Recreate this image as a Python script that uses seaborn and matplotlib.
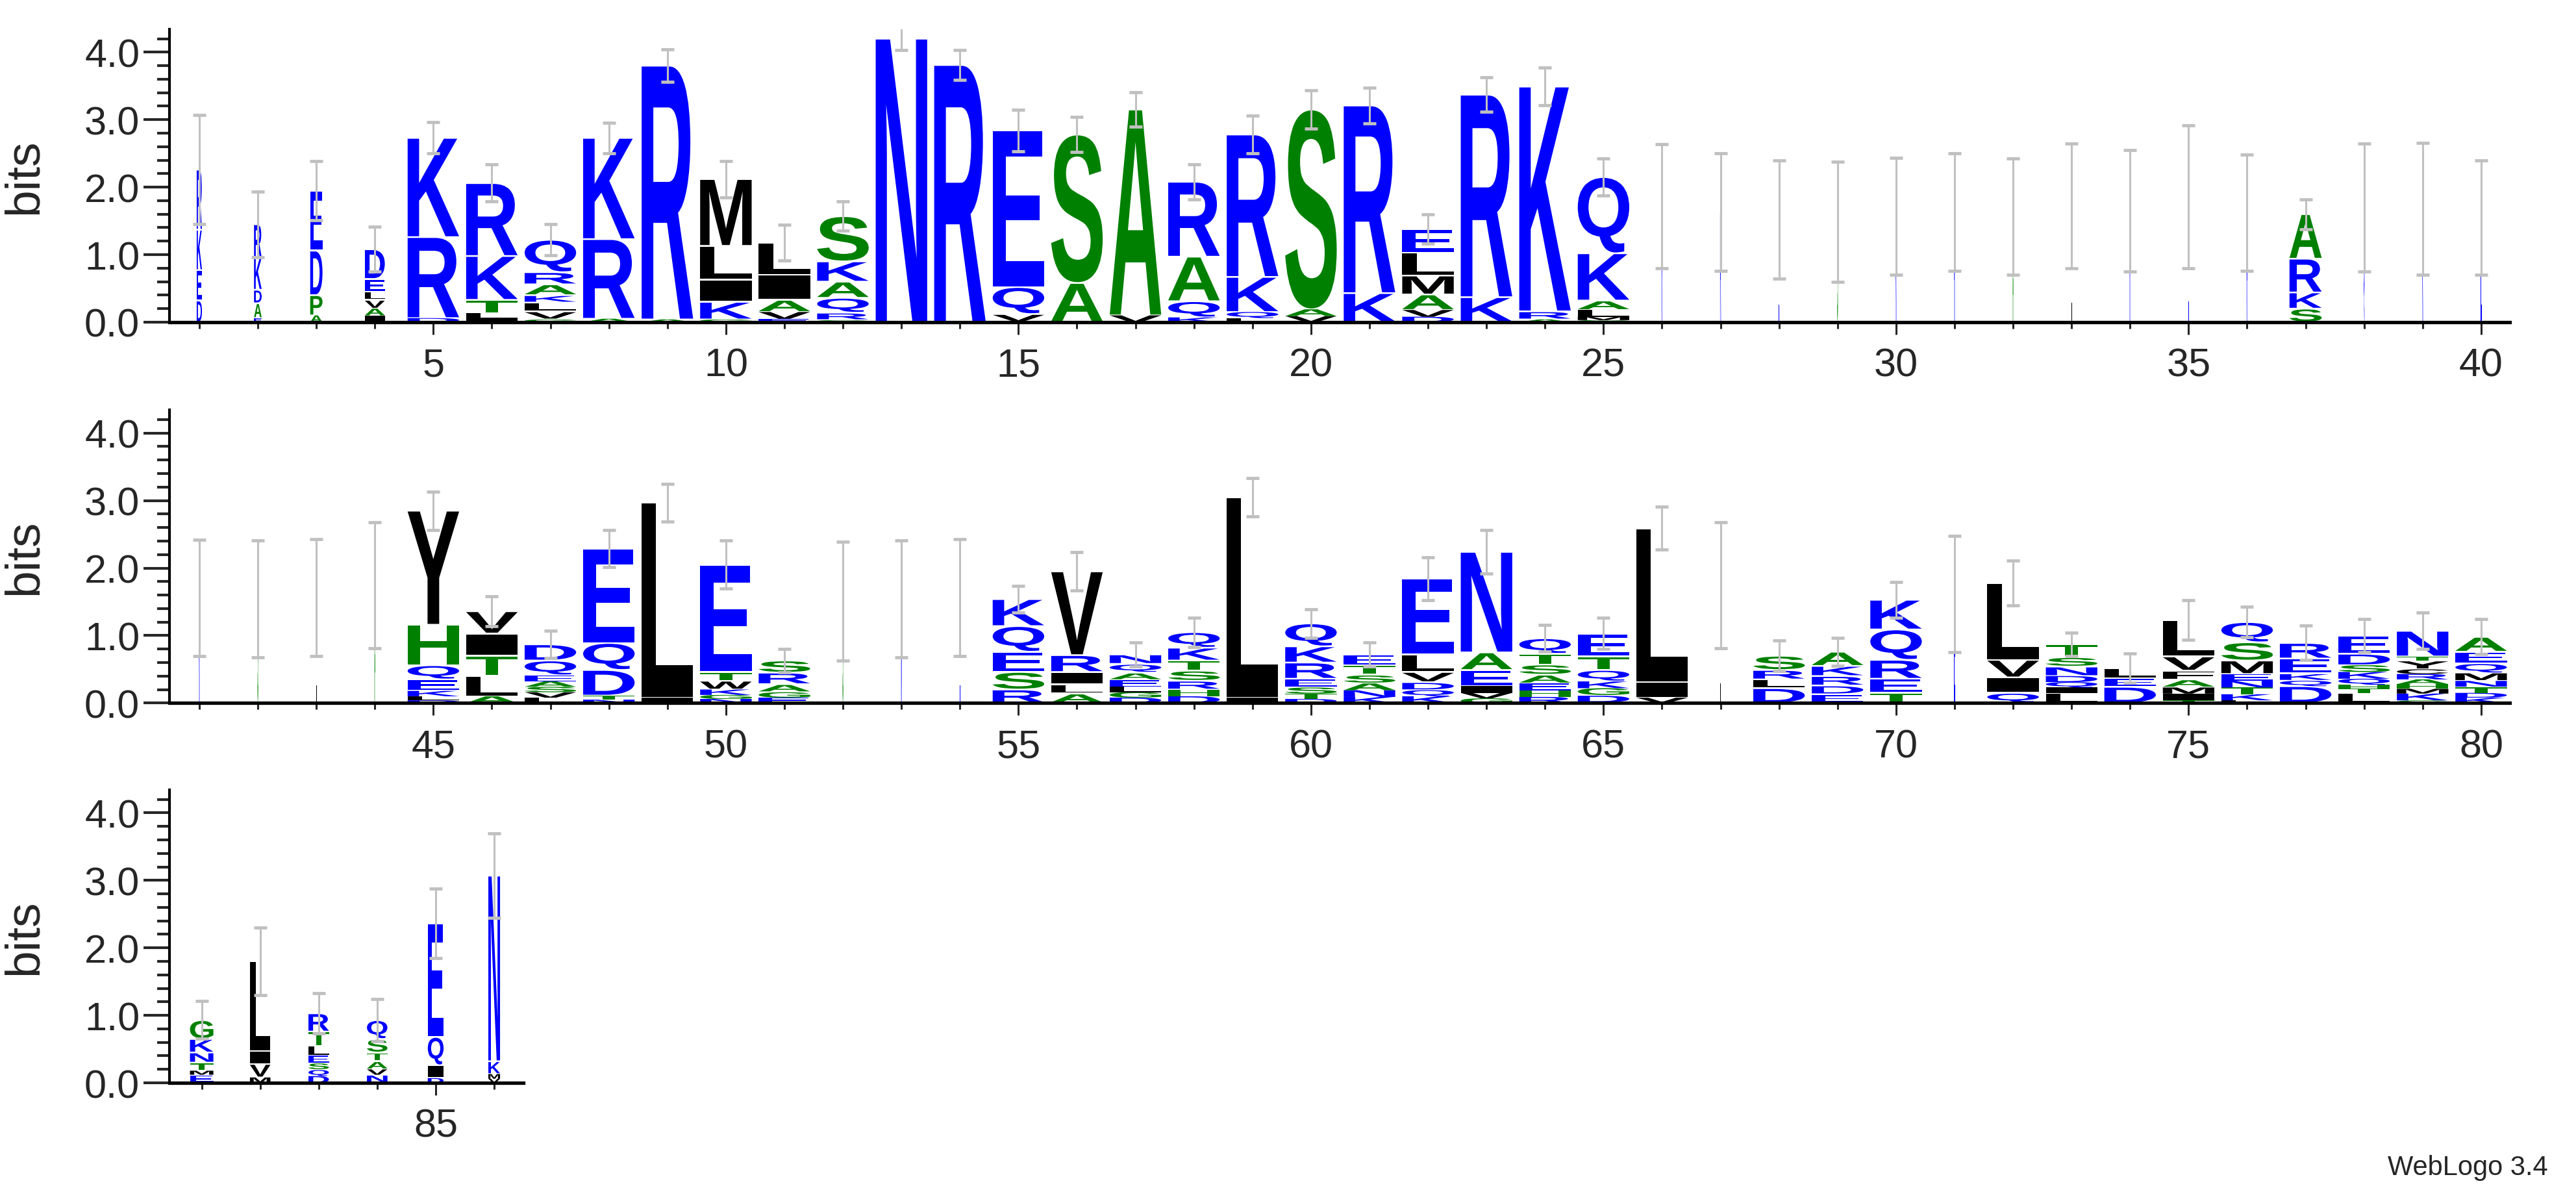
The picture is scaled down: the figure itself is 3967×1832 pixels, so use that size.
import matplotlib
matplotlib.use("Agg")
import matplotlib.pyplot as plt
import matplotlib.transforms as mtransforms
from matplotlib.textpath import TextPath
from matplotlib.patches import PathPatch
from matplotlib.font_manager import FontProperties, fontManager
from matplotlib.ticker import MultipleLocator
import seaborn as sns

# ---- data: letters bottom -> top, heights in bits, error half-width, column width
row1_letters = ["DEKR", "EADKR", "APDE", "IAVLED", "DRK", "ILTKR", "GVLKARQ", "ARK", "AR", "GKILM",
                "EVAIL", "GRQAKS", "N", "R", "VQE", "AS", "VA", "KQAR", "LQKR", "VAS",
                "KR", "DVAMLE", "KR", "ARK", "GMLAKQ", "K", "R", "E", "S", "K",
                "R", "A", "L", "K", "E", "R", "SKRA", "Q", "K", "E"]
row1_heights = [[0.32, 0.45, 0.6, 0.89], [0.06, 0.22, 0.2, 0.47, 0.5], [0.1, 0.3, 0.66, 0.89],
                [0.1, 0.1, 0.13, 0.12, 0.19, 0.44], [0.06, 1.2, 1.47], [0.05, 0.08, 0.2, 0.65, 1.08],
                [0.04, 0.12, 0.13, 0.11, 0.16, 0.18, 0.48], [0.05, 1.18, 1.5], [0.04, 3.76],
                [0.04, 0.26, 0.33, 0.5, 0.99], [0.05, 0.1, 0.18, 0.37, 0.48],
                [0.03, 0.11, 0.22, 0.24, 0.3, 0.67], [4.2], [3.81], [0.12, 0.4, 2.32], [0.58, 2.2],
                [0.1, 3.05], [0.07, 0.24, 0.66, 1.11], [0.06, 0.09, 0.52, 2.11], [0.09, 0.1, 2.96],
                [0.43, 2.78], [0.08, 0.1, 0.23, 0.28, 0.34, 0.35], [0.37, 3.0], [0.04, 0.12, 3.33],
                [0.03, 0.05, 0.1, 0.14, 0.7, 1.13], [1.72], [1.63], [1.52], [1.49], [1.57],
                [1.63], [1.56], [1.72], [1.65], [1.86], [1.62], [0.2, 0.24, 0.5, 0.66], [1.7], [1.68], [1.55]]
row1_err = [0.81, 0.485, 0.44, 0.33, 0.23, 0.275, 0.23, 0.225, 0.24, 0.27,
            0.265, 0.215, 0.165, 0.225, 0.305, 0.26, 0.255, 0.26, 0.28, 0.285,
            0.265, 0.22, 0.255, 0.28, 0.27, 0.92, 0.875, 0.875, 0.89, 0.865,
            0.875, 0.86, 0.925, 0.9, 1.06, 0.865, 0.22, 0.95, 0.975, 0.85]
row1_widths = [0.09, 0.13, 0.21, 0.34] + [0.88] * 21 + [0.015] * 11 + [0.55] + [0.015] * 3

row2_letters = ["K", "S", "L", "A", "DLKEQHY", "ALTIV", "LVSAEQD", "NTDQE", "IL", "NGKWTE",
                "EGARS", "S", "N", "E", "RSEQK", "ALIRV", "DGLEAQN", "DHRSTKQ", "IL", "DTSERKQ",
                "KNASTE", "KQDVLE", "GVIEAN", "RHEASTQ", "DGKQTE", "VIL", "L", "DLRS", "EDRKA", "TERQK",
                "E", "QIVL", "LIQDNST", "DEL", "TIMAFVL", "LKTNEMSQ", "DQKER", "LTHQKSDE", "GKMHARCYTN", "KDTNMQEA"]
row2_heights = [[1.56], [1.545], [1.565], [1.745], [0.04, 0.06, 0.08, 0.17, 0.21, 0.6, 1.69],
                [0.1, 0.3, 0.3, 0.33, 0.33], [0.08, 0.08, 0.08, 0.08, 0.09, 0.22, 0.24],
                [0.05, 0.06, 0.38, 0.4, 1.4], [0.08, 2.89], [0.06, 0.06, 0.08, 0.13, 0.13, 1.59],
                [0.08, 0.08, 0.12, 0.17, 0.18], [1.51], [1.545], [1.565], [0.2, 0.26, 0.3, 0.38, 0.4],
                [0.14, 0.14, 0.18, 0.25, 1.24], [0.08, 0.08, 0.08, 0.1, 0.11, 0.13, 0.14],
                [0.1, 0.1, 0.13, 0.15, 0.15, 0.19, 0.23], [0.08, 2.97], [0.06, 0.08, 0.09, 0.13, 0.24, 0.24, 0.34],
                [0.09, 0.1, 0.1, 0.13, 0.14, 0.16], [0.1, 0.09, 0.12, 0.15, 0.26, 1.12],
                [0.07, 0.08, 0.1, 0.24, 0.26, 1.49], [0.09, 0.1, 0.1, 0.13, 0.15, 0.16, 0.23],
                [0.12, 0.1, 0.1, 0.17, 0.2, 0.34], [0.08, 0.23, 2.28], [1.745], [0.22, 0.13, 0.14, 0.21],
                [0.13, 0.13, 0.14, 0.15, 0.21], [0.15, 0.21, 0.28, 0.45, 0.44], [1.615],
                [0.15, 0.23, 0.26, 1.14], [0.15, 0.08, 0.08, 0.09, 0.14, 0.14, 0.19], [0.24, 0.13, 0.15],
                [0.04, 0.1, 0.09, 0.12, 0.13, 0.21, 0.54], [0.04, 0.09, 0.1, 0.1, 0.1, 0.2, 0.27, 0.3],
                [0.25, 0.08, 0.11, 0.22, 0.23], [0.15, 0.06, 0.06, 0.09, 0.1, 0.1, 0.17, 0.27],
                [0.04, 0.1, 0.07, 0.07, 0.07, 0.08, 0.07, 0.13, 0.06, 0.38],
                [0.08, 0.07, 0.08, 0.11, 0.1, 0.15, 0.17, 0.22]]
row2_err = [0.86, 0.865, 0.865, 0.935, 0.285, 0.22, 0.2, 0.275, 0.28, 0.355,
            0.175, 0.88, 0.865, 0.865, 0.2, 0.285, 0.175, 0.215, 0.28, 0.21,
            0.175, 0.32, 0.32, 0.195, 0.23, 0.315, 0.935, 0.23, 0.21, 0.265,
            0.865, 0.335, 0.175, 0.215, 0.295, 0.225, 0.255, 0.245, 0.27, 0.26]
row2_widths = ([0.015] * 4 + [0.88] * 7 + [0.015] * 3 + [0.88] * 12 + [0.015] + [0.88] * 3
               + [0.015] + [0.88] * 9)

row3_letters = ["EMTNKG", "MVIL", "DQSELTR", "NVATSQ", "DIQE", "VMKN"]
row3_heights = [[0.12, 0.06, 0.12, 0.15, 0.2, 0.28], [0.08, 0.2, 0.19, 1.33],
                [0.1, 0.09, 0.11, 0.1, 0.15, 0.21, 0.27], [0.12, 0.08, 0.12, 0.13, 0.2, 0.28],
                [0.07, 0.19, 0.42, 1.68], [0.06, 0.07, 0.19, 2.75]]
row3_err = [0.28, 0.5, 0.3, 0.315, 0.515, 0.625]
row3_widths = [0.4, 0.35, 0.35, 0.35, 0.27, 0.2]

sns.set_theme(style="white")
names = {f.name for f in fontManager.ttflist}
tick_family = "Liberation Sans Narrow" if "Liberation Sans Narrow" in names else "Liberation Sans"
plt.rcParams["font.family"] = [tick_family, "DejaVu Sans"]

glyph_font = FontProperties(family="Liberation Sans", weight="bold")
BLUE, GREEN, BLACK = "#0000ff", "#008000", "#000000"


def letter_color(ch):
    if ch in "RKDENQ":
        return BLUE
    if ch in "GSTAPH":
        return GREEN
    return BLACK


def draw_letter(ax, ch, x, y0, w, h):
    gap = 0.025 if h > 0.1 else 0.0
    path = TextPath((0, 0), ch, size=1, prop=glyph_font)
    bb = path.get_extents()
    tr = (mtransforms.Affine2D().translate(-bb.x0, -bb.y0)
          .scale(w / bb.width, (h - gap) / bb.height)
          .translate(x - w / 2, y0 + gap / 2))
    ax.add_patch(PathPatch(tr.transform_path(path), facecolor=letter_color(ch),
                           edgecolor="none", zorder=2))


def draw_row(ax, start, letters, heights, errs, widths, xlim):
    tops = []
    for i, (seq, hs, w) in enumerate(zip(letters, heights, widths)):
        x = start + i
        y = 0.0
        for ch, h in zip(seq, hs):
            draw_letter(ax, ch, x, y, w, h)
            y += h
        tops.append(y)
    xs = list(range(start, start + len(letters)))
    ax.errorbar(xs, tops, yerr=errs, fmt="none", ecolor="#c0c0c0", elinewidth=2.2,
                capsize=7, capthick=3.5, zorder=3)
    ax.set_xlim(*xlim)
    ax.set_ylim(0, 4.34)
    ax.xaxis.set_major_locator(MultipleLocator(5))
    ax.xaxis.set_minor_locator(MultipleLocator(1))
    ax.yaxis.set_major_locator(MultipleLocator(1))
    ax.yaxis.set_minor_locator(MultipleLocator(0.2))
    ax.yaxis.set_major_formatter(plt.FormatStrFormatter("%.1f"))
    ax.tick_params(axis="y", which="major", direction="out", length=29, width=3,
                   labelsize=44, pad=4, left=True)
    ax.tick_params(axis="y", which="minor", direction="out", length=14, width=3, left=True)
    ax.tick_params(axis="x", which="major", direction="out", length=14, width=2.2,
                   labelsize=44, pad=14, bottom=True)
    ax.tick_params(axis="x", which="minor", direction="out", length=7, width=2.2, bottom=True)
    sns.despine(ax=ax)
    ax.spines["left"].set_linewidth(3)
    ax.spines["bottom"].set_linewidth(3.8)
    ax.spines["left"].set_color("black")
    ax.spines["bottom"].set_color("black")
    ax.grid(False)
    ax.set_ylabel("bits", fontsize=54, family=["Liberation Sans", "DejaVu Sans"])
    ax.yaxis.set_label_coords(0.018, 0.5, transform=mtransforms.blended_transform_factory(
        ax.figure.transFigure, ax.transAxes))


fig = plt.figure(figsize=(39.67, 18.33), dpi=100)
ax1 = fig.add_axes([0.0658, 0.7289, 0.9085, 0.246])
ax2 = fig.add_axes([0.0658, 0.409, 0.9085, 0.246])
ax3 = fig.add_axes([0.0658, 0.090, 0.1374, 0.246])

draw_row(ax1, 1, row1_letters, row1_heights, row1_err, row1_widths, (0.49, 40.49))
draw_row(ax2, 41, row2_letters, row2_heights, row2_err, row2_widths, (40.49, 80.49))
draw_row(ax3, 81, row3_letters, row3_heights, row3_err, row3_widths, (80.45, 86.5))

fig.text(0.989, 0.008, "WebLogo 3.4", ha="right", va="bottom", fontsize=30,
         family=["Liberation Sans", "DejaVu Sans"])

fig.savefig("out.png", dpi=100)
